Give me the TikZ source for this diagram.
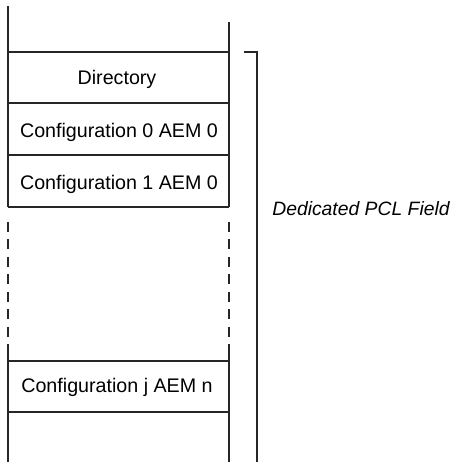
\documentclass[tikz,border=0pt]{standalone}
\usepackage{fontspec}
\setmainfont{Liberation Sans}
\begin{document}
\begin{tikzpicture}[x=0.6pt,y=-0.6pt,
  rule/.style={line width=0.8pt, draw=black!85},
  gaprule/.style={rule, dash pattern=on 6pt off 4.5pt, dash phase=6pt},
  celltext/.style={font=\fontsize{11.8}{14}\selectfont, inner sep=0pt, anchor=base},
  fieldtext/.style={font=\fontsize{11.6}{14}\selectfont\itshape, inner sep=0pt, anchor=base west}]
\useasboundingbox (0,0) rectangle (455,462);

% corner points of the memory column
\coordinate (lt) at (8,6);
\coordinate (rt) at (229,22);
\coordinate (l1) at (8,52);   \coordinate (r1) at (229,52);
\coordinate (l2) at (8,103);  \coordinate (r2) at (229,103);
\coordinate (l3) at (8,155);  \coordinate (r3) at (229,155);
\coordinate (l4) at (8,207);  \coordinate (r4) at (229,207);
\coordinate (l5) at (8,361);  \coordinate (r5) at (229,361);
\coordinate (l6) at (8,412);  \coordinate (r6) at (229,412);
\coordinate (lb) at (8,462);  \coordinate (rb) at (229,462);

% ends of the dashed stretch of each wall
\coordinate (lg1) at (8,214.2);   \coordinate (rg1) at (229,214.2);
\coordinate (lg2) at (8,352);     \coordinate (rg2) at (229,352);

% side walls: solid, with a dashed gap for the omitted entries
\draw[rule] (lt) -- (l4);
\draw[gaprule] (lg1) -- (lg2);
\draw[rule] (lg2) -- (lb);
\draw[rule] (rt) -- (r4);
\draw[gaprule] (rg1) -- (rg2);
\draw[rule] (rg2) -- (rb);

% cell separators
\foreach \i in {1,...,6} \draw[rule] (l\i) -- (r\i);

% cell labels
\node[celltext] (dir) at (117,84) {Directory};
\node[celltext] (cfg0) at (119,137) {Configuration 0 AEM 0};
\node[celltext] (cfg1) at (119,189) {Configuration 1 AEM 0};
\node[celltext] (cfgj) at (117,392.7) {Configuration j AEM n};

% bracket spanning the dedicated field
\coordinate (bt) at (244,52);
\coordinate (bc) at (257,52);
\coordinate (bb) at (257,462);
\draw[rule] (bt) -- (bc) -- (bb);
\node[fieldtext] (field) at (272,215) {Dedicated PCL Field};
\end{tikzpicture}
\end{document}
